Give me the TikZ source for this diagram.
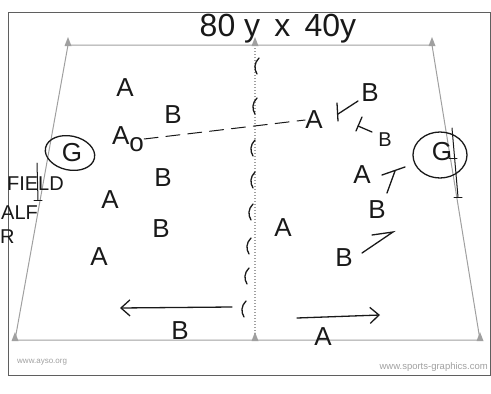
\documentclass[tikz,border=0pt]{standalone}
\usepackage{fontspec}
\setmainfont{Liberation Sans}
\usetikzlibrary{arrows,arrows.meta,positioning}

\definecolor{fieldgrey}{RGB}{160,160,160}
\definecolor{framegrey}{RGB}{95,95,95}
\definecolor{ink}{RGB}{25,25,25}

\begin{document}
\begin{tikzpicture}[x=1pt, y=-1pt, >={Straight Barb[length=9pt, width=16pt]},
		every node/.style={inner sep=0pt, text=ink, font=\fontsize{26}{28}\selectfont},
		pen/.style={draw=ink, line width=1.3pt, line cap=round},
		fieldline/.style={draw=fieldgrey, line width=1pt},
		small/.style={font=\fontsize{20}{22}\selectfont},
		web/.style={text=fieldgrey, font=\fontsize{8}{9}\selectfont}]
		\useasboundingbox (0,0) rectangle (491,394);
		\draw[framegrey, line width=1pt] (8,12) rectangle (490,375);
		
		% field corners and cones
		\coordinate (tl) at (68,45);
		\coordinate (tc) at (255,45);
		\coordinate (tr) at (432,45);
		\coordinate (bl) at (15,340);
		\coordinate (bc) at (255,340);
		\coordinate (br) at (480,340);
		\draw[fieldline] (bl) -- (tl) -- (tr) -- (br) -- cycle;
		\draw[fieldline, dotted, line width=1.3pt] (tc) -- (bc);
		\foreach \p in {tl,tc,tr,bl,bc,br}
			\fill[fieldgrey] (\p) ++(-3.5,1) -- ++(7,0) -- ++(-3.5,-9) -- cycle;
		
		% goals
		\draw[pen, line width=1pt] (37,163) -- (38,200);
		\draw[pen, line width=1pt] (34,200) -- (42,200);
		\draw[pen, line width=1pt] (452,128) -- (458,197);
		\draw[pen, line width=1pt] (449,158) -- (457,158);
		\draw[pen, line width=1pt] (454,197) -- (462,197);
		\node (gl) at (72,153) {G};
		\draw[pen] (70,153) ellipse [x radius=25pt, y radius=17pt, rotate=-12];
		\node (gr) at (442,152) {G};
		\draw[pen] (440,155) ellipse [x radius=27pt, y radius=23pt];
		
		% title and side notes
		\node (size) at (278,29) {\fontsize{32}{34}\selectfont 80 y\, x\, 40y};
		\node[small, anchor=east] (field) at (64,184) {FIELD};
		\node[small, anchor=west] (half) at (1,213) {ALF};
		\node[small, anchor=west] (r) at (0,237) {R};
		
		% left half
		\node (a1) at (125,88) {A};
		\node (b1) at (173,115) {B};
		\node (a0) at (128,139) {A\raisebox{-7pt}{o}};
		\node (b2) at (163,178) {B};
		\node (a2) at (110,200) {A};
		\node (b3) at (161,229) {B};
		\node (a3) at (99,257) {A};
		
		% right half
		\node (a4) at (314,120) {A};
		\node (b4) at (370,93) {B};
		\node[small] (b5) at (385,140) {B};
		\node (a5) at (362,175) {A};
		\node (b6) at (377,210) {B};
		\node (a6) at (283,228) {A};
		\node (b7) at (344,258) {B};
		
		% marks
		\draw[pen, line width=1pt, dash pattern=on 14pt off 8pt] (a0.east) -- (a4.west);
		\draw[pen] (337,103) -- (338,121);
		\draw[pen] (338,114) -- (358,101);
		\draw[pen] (362,117) -- (356,131);
		\draw[pen] (358,126) -- (372,132);
		\draw[pen] (382,175) -- (405,167);
		\draw[pen] (395,171) -- (387,193);
		\draw[pen] (372,235) -- (393,232) -- (362,253);
		\foreach \x/\y in {256/66,254/106,252/148,252/180,250/212,248/246,246/276,243/309}
			\draw[pen] (\x+3,\y-8) .. controls (\x-2,\y-3) and (\x-2,\y+3) .. (\x+1,\y+8);
		
		% runs
		\coordinate (lstart) at (232,307);
		\coordinate (lend) at (120,308);
		\coordinate (rstart) at (297,318);
		\coordinate (rend) at (380,315);
		\draw[pen, ->] (lstart) -- (lend);
		\draw[pen, ->] (rstart) -- (rend);
		\node (bb) at (180,331) {B};
		\node (ab) at (323,337) {A};
		
		\node[web, anchor=west] (ayso) at (17,362) {www.ayso.org};
		\node[web, anchor=east, font=\fontsize{9.5}{10}\selectfont] (sg) at (488,367) {www.sports-graphics.com};
	\end{tikzpicture}
\end{document}
